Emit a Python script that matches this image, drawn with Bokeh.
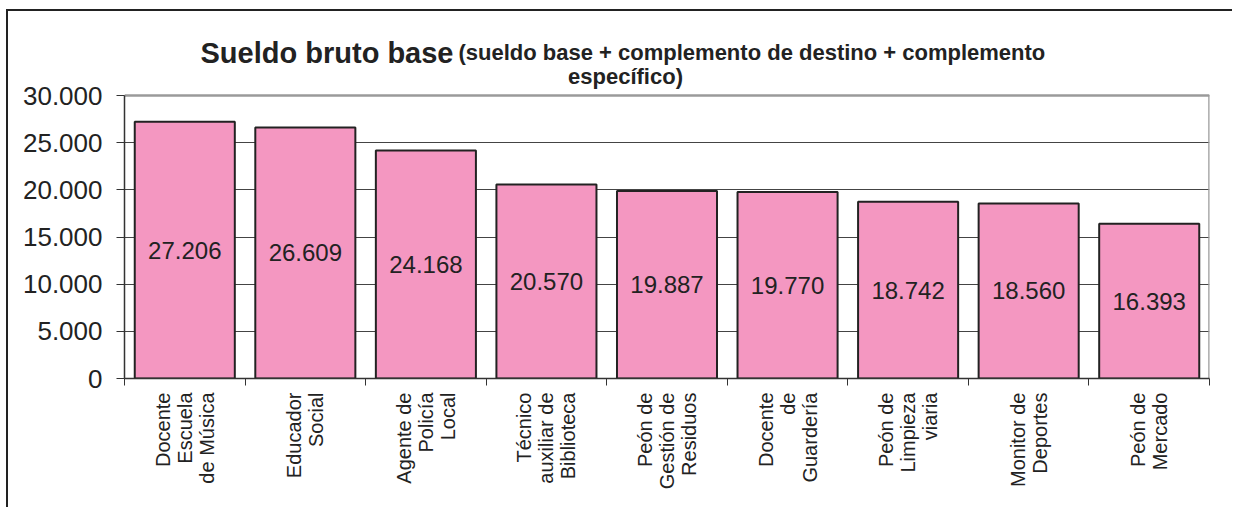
from math import pi
from bokeh.plotting import figure
from bokeh.models import (Range1d, FixedTicker, Label, ColumnDataSource)
from bokeh.core.properties import value
from bokeh.embed import file_html
from bokeh.resources import INLINE

categories = [
    "Docente\nEscuela\nde Música",
    "Educador\nSocial",
    "Agente de\nPolicía\nLocal",
    "Técnico\nauxiliar de\nBiblioteca",
    "Peón de\nGestión de\nResiduos",
    "Docente\nde\nGuardería",
    "Peón de\nLimpieza\nviaria",
    "Monitor de\nDeportes",
    "Peón de\nMercado",
]
salaries = [27206, 26609, 24168, 20570, 19887, 19770, 18742, 18560, 16393]
y_ticks = [0, 5000, 10000, 15000, 20000, 25000, 30000]
title_main = "Sueldo bruto base"
title_sub_1 = "(sueldo base + complemento de destino + complemento"
title_sub_2 = "específico)"

def fmt(v):
    return f"{v:,}".replace(",", ".")

FONT = "Liberation Sans"
n = len(categories)
xs = [i + 0.5 for i in range(n)]
y_max = y_ticks[-1]

# layout (pixels)
W, H = 1226, 498
B_LEFT, B_RIGHT, B_BOTTOM = 116, 25, 131
PLOT_H = 283            # height of the value area (0 .. 30.000)
frame_h = H - B_BOTTOM  # frame reaches the top of the canvas (room for the title)
y_end = y_max * frame_h / PLOT_H

src = ColumnDataSource(dict(
    x=xs, top=salaries, mid=[v / 2 for v in salaries],
    lbl=[fmt(v) for v in salaries],
))

p = figure(width=W, height=H, output_backend="svg", toolbar_location=None,
           x_range=Range1d(0, n), y_range=Range1d(0, y_end),
           min_border_left=B_LEFT, min_border_right=B_RIGHT, min_border_top=0,
           min_border_bottom=B_BOTTOM)
p.background_fill_color = "white"
p.border_fill_color = "white"
p.outline_line_color = None

p.xgrid.visible = False
p.ygrid.ticker = FixedTicker(ticks=y_ticks)
p.ygrid.grid_line_color = "#444444"
p.ygrid.grid_line_width = 1

# plot-area border (grey, top and right)
p.segment(x0=[0, n], y0=[y_max, 0], x1=[n, n], y1=[y_max, y_max],
          line_color="#9a9a9a", line_width=2.5)

p.vbar(x="x", top="top", width=0.83, bottom=0, source=src,
       fill_color="#F497C1", line_color="#222222", line_width=2)
p.text(x="x", y="mid", text="lbl", source=src, text_align="center",
       text_baseline="middle", text_font=value(FONT), text_font_size="24px",
       text_color="#222222")

ya = p.yaxis[0]
ya.ticker = FixedTicker(ticks=y_ticks)
ya.bounds = (0, y_max)
ya.major_label_overrides = {t: fmt(t) for t in y_ticks}
ya.major_label_text_font = FONT
ya.major_label_text_font_size = "26px"
ya.major_label_text_color = "#222222"
ya.major_tick_in = 0
ya.major_tick_out = 8
ya.major_tick_line_color = "#333333"
ya.minor_tick_line_color = None
ya.axis_line_color = "#333333"
ya.axis_line_width = 1.5
ya.major_label_standoff = 14

xa = p.xaxis[0]
xa.ticker = FixedTicker(ticks=xs, minor_ticks=list(range(n + 1)))
xa.major_label_overrides = {x: c for x, c in zip(xs, categories)}
xa.major_label_orientation = pi / 2
xa.major_label_text_font = FONT
xa.major_label_text_font_size = "20px"
xa.major_label_text_line_height = 1.0
xa.major_label_text_color = "#222222"
xa.major_tick_line_color = None
xa.major_tick_in = 0
xa.major_tick_out = 0
xa.minor_tick_in = 0
xa.minor_tick_out = 7
xa.minor_tick_line_color = "#333333"
xa.axis_line_color = "#333333"
xa.axis_line_width = 1.5
xa.major_label_standoff = 7

# title (screen units: from frame left / frame bottom)
p.add_layout(Label(x=329, y=326, x_units="screen", y_units="screen",
                   text=title_main, text_align="right",
                   text_baseline="alphabetic", text_font=FONT,
                   text_font_size="29px", text_font_style="bold",
                   text_color="#222222"))
p.add_layout(Label(x=334, y=326, x_units="screen", y_units="screen",
                   text=title_sub_1, text_align="left",
                   text_baseline="alphabetic", text_font=FONT,
                   text_font_size="22px", text_font_style="bold",
                   text_color="#222222"))
p.add_layout(Label(x=501, y=302, x_units="screen", y_units="screen",
                   text=title_sub_2, text_align="center",
                   text_baseline="alphabetic", text_font=FONT,
                   text_font_size="22px", text_font_style="bold",
                   text_color="#222222"))

p.styles = {"border-left": "2px solid #222222", "border-top": "2px solid #222222",
            "margin-left": "6px", "margin-top": "9px"}

open("out.html", "w").write(file_html(p, INLINE))
